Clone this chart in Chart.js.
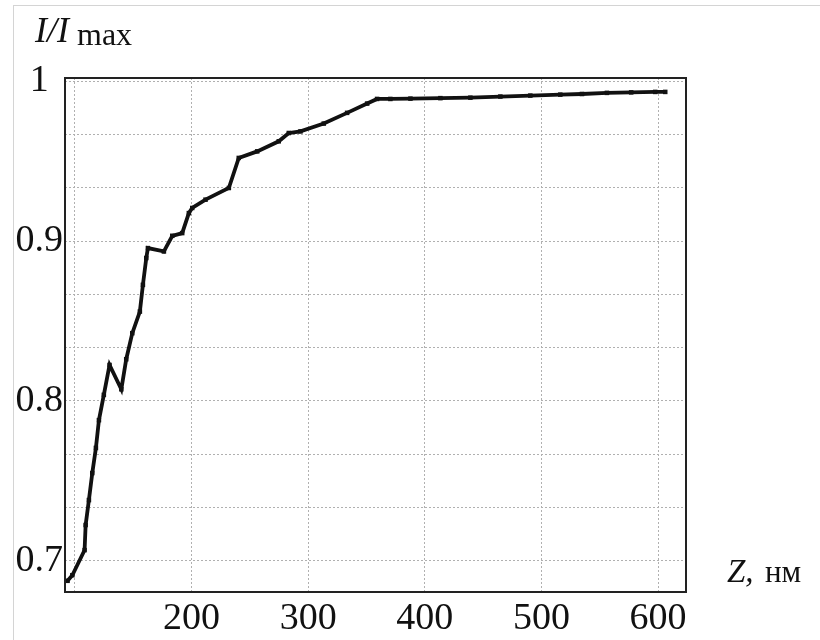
<!DOCTYPE html>
<html>
<head>
<meta charset="utf-8">
<script src="https://cdn.jsdelivr.net/npm/chart.js@4.4.1/dist/chart.umd.min.js"></script>
<style>
  html, body { margin: 0; padding: 0; background: #fff; }
  #wrap { position: relative; width: 820px; height: 640px; }
  #frame { position: absolute; left: 13px; top: 5px; right: 0; bottom: 0; border-left: 1px solid #d4d4d4; border-top: 1px solid #d4d4d4; pointer-events: none; }
</style>
</head>
<body>
<div id="wrap">
  <canvas id="graph1" width="820" height="640"></canvas>
  <div id="frame"></div>
</div>
<script>
// Z, nm
const zValues = [93.7, 97.8, 108.3, 109.2, 112, 114.9, 118, 120.6, 124.8, 129.7,
  139.8, 144, 149.2, 155.7, 158.3, 161.2, 162.6, 176.3, 183.5, 192,
  197.7, 200.6, 212, 232, 240.5, 256.3, 274.8, 283.4, 293.4, 313.4,
  333.4, 350.6, 359.1, 370.5, 387.7, 413.4, 439.1, 464.8, 490.5, 516.2,
  534.8, 556.2, 577, 597.6, 606.2];
// I / Imax
const intensity = [0.6875, 0.691, 0.7067, 0.7224, 0.738, 0.7549, 0.7706, 0.788, 0.8038, 0.8225,
  0.8073, 0.8261, 0.8424, 0.8559, 0.8726, 0.8894, 0.8956, 0.8935, 0.9033, 0.905,
  0.9175, 0.9207, 0.9259, 0.9332, 0.952, 0.9561, 0.9624, 0.9676, 0.9686, 0.9735,
  0.9802, 0.986, 0.9889, 0.9889, 0.9891, 0.9894, 0.9897, 0.9904, 0.991, 0.9916,
  0.992, 0.9927, 0.993, 0.9933, 0.9933];

const xTicks = [100, 200, 300, 400, 500, 600];
const xLabels = ['', '200', '300', '400', '500', '600'];
// grid every 1/30, labels every 0.1
const yTicks = [0.7, 0.7333, 0.7667, 0.8, 0.8333, 0.8667, 0.9, 0.9333, 0.9667, 1.0];
const yLabels = ['0.7', '', '', '0.8', '', '', '0.9', '', '', '1'];

const serif = 'Liberation Serif';

const titles = {
  id: 'titles',
  afterDraw(chart) {
    const c = chart.ctx;
    const a = chart.chartArea;
    c.save();
    c.strokeStyle = '#222';
    c.lineWidth = 2;
    c.strokeRect(a.left, a.top, a.right - a.left, a.bottom - a.top);
    c.fillStyle = '#111';
    c.textBaseline = 'alphabetic';
    c.font = 'italic 36px ' + serif;
    c.fillText('I/I', 35, 42);
    c.font = '32px ' + serif;
    c.fillText('max', 77, 45);
    c.font = 'italic 33px ' + serif;
    c.fillText('Z,', 727, 582);
    c.font = '31px ' + serif;
    c.fillText('нм', 765, 582);
    c.restore();
  }
};

const gridStyle = {
  color: '#b0b0b0',
  lineWidth: 1,
  drawTicks: false,
};

const chartConfig = {
  type: 'line',
  data: {
    datasets: [{
      data: zValues.map((z, i) => ({ x: z, y: intensity[i] })),
      borderColor: '#111',
      backgroundColor: '#111',
      borderWidth: 3.8,
      tension: 0,
      pointStyle: 'rect',
      pointRadius: 3.2,
      pointBorderWidth: 0,
    }],
  },
  options: {
    responsive: false,
    animation: false,
    layout: { padding: { top: 78, right: 134, left: 0, bottom: 0 } },
    plugins: {
      legend: { display: false },
      tooltip: { enabled: false },
    },
    scales: {
      x: {
        type: 'linear',
        min: 91.5,
        max: 624,
        afterBuildTicks: axis => { axis.ticks = xTicks.map(v => ({ value: v })); },
        afterFit: axis => { axis.height = 48; },
        grid: { ...gridStyle },
        border: { display: false, dash: [2, 2] },
        ticks: {
          autoSkip: false,
          maxRotation: 0,
          padding: 4,
          color: '#111',
          font: { family: serif, size: 38 },
          callback: (v, i) => xLabels[i],
        },
      },
      y: {
        type: 'linear',
        min: 0.6805,
        max: 1.002,
        afterBuildTicks: axis => { axis.ticks = yTicks.map(v => ({ value: v })); },
        afterFit: axis => { axis.width = 65; },
        grid: { ...gridStyle },
        border: { display: false, dash: [2, 2] },
        ticks: {
          autoSkip: false,
          crossAlign: 'center',
          padding: 2,
          color: '#111',
          font: { family: serif, size: 38 },
          callback: (v, i) => yLabels[i],
        },
      },
    },
  },
  plugins: [titles],
};

const graph1 = new Chart(document.getElementById('graph1'), chartConfig);
</script>
</body>
</html>
